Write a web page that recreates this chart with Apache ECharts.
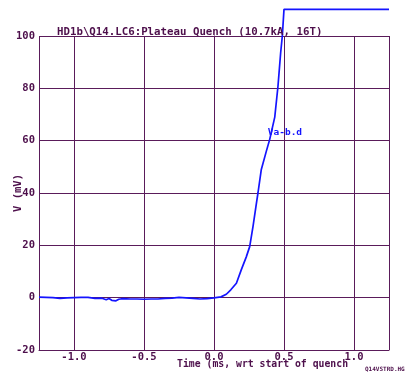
<!DOCTYPE html>
<html><head><meta charset="utf-8">
<script src="https://cdn.jsdelivr.net/npm/echarts@6/dist/echarts.min.js"></script>
<style>html,body{margin:0;padding:0;background:#fff}#c{width:409px;height:374px}</style>
</head><body><div id="c"></div>
<script>
const chartTitle = 'HD1b\\Q14.LC6:Plateau Quench (10.7kA, 16T)';
const xTitle = 'Time (ms, wrt start of quench';
const yTitle = 'V (mV)';
const fileTag = 'Q14VSTRD.HG';
const seriesName = 'Va-b.d';
const timeMs = [-1.25,-1.2,-1.15,-1.1,-1.05,-1.0,-0.95,-0.9,-0.85,-0.8,-0.77,-0.75,-0.73,-0.72,-0.70,-0.68,-0.65,-0.6,-0.55,-0.5,-0.45,-0.4,-0.35,-0.3,-0.25,-0.2,-0.15,-0.1,-0.05,0.0,0.05,0.088,0.12,0.16,0.196,0.23,0.255,0.279,0.30,0.314,0.338,0.374,0.398,0.434,0.457,0.476,0.488,0.5,1.25];
const voltMv = [0.2,0.1,0,-0.3,-0.1,0,0.1,0.1,-0.3,-0.2,-0.8,-0.3,-1.0,-0.5,-1.2,-0.6,-0.4,-0.5,-0.5,-0.6,-0.5,-0.5,-0.3,-0.2,0.1,-0.1,-0.3,-0.5,-0.4,-0.1,0.3,1.3,3.0,5.5,10.8,15.5,19.5,27.3,35,40,49,56,60.5,69,80.8,93.5,100,110.2,110.2];
const labelAt = [0.384, 63];
const yMin = -20, yMax = 100, yStep = 20;
const xMin = -1.25, xMax = 1.25;

const ink = '#4d0f4b';
const grid = '#5a1b5a';
const font = 'DejaVu Sans Mono';
const chart = echarts.init(document.getElementById('c'));
chart.setOption({
  animation: false,
  title: [
    {text: chartTitle, left: 57, top: 27, padding: 0, textStyle: {fontFamily: font, fontWeight: 'bold', fontSize: 10.75, color: ink}},
    {text: xTitle, left: 177, top: 359, padding: 0, textStyle: {fontFamily: font, fontWeight: 'bold', fontSize: 9.8, color: ink}},
    {text: fileTag, left: 365, top: 366, padding: 0, textStyle: {fontFamily: font, fontWeight: 'bold', fontSize: 6, color: ink}}
  ],
  grid: {left: 39, top: 36, width: 350, height: 314, containLabel: false, outerBoundsMode: 'none'},
  xAxis: {
    type: 'value', min: xMin, max: xMax, splitNumber: 5,
    axisLine: {onZero: false, lineStyle: {color: grid, width: 1}},
    axisTick: {show: false},
    splitLine: {lineStyle: {color: grid, width: 1}},
    axisLabel: {
      showMinLabel: false, showMaxLabel: false, margin: 2,
      fontFamily: font, fontWeight: 'bold', fontSize: 10.5, color: ink,
      formatter: v => Math.abs(v * 2 - Math.round(v * 2)) > 1e-6 ? '' : v.toFixed(1)
    }
  },
  yAxis: {
    type: 'value', min: yMin, max: yMax, interval: yStep,
    name: yTitle, nameLocation: 'middle', nameGap: 15, nameMoveOverlap: false,
    nameTextStyle: {fontFamily: font, fontWeight: 'bold', fontSize: 10.5, color: ink},
    axisLine: {lineStyle: {color: grid, width: 1}},
    axisTick: {show: false},
    splitLine: {lineStyle: {color: grid, width: 1}},
    axisLabel: {margin: 4, fontFamily: font, fontWeight: 'bold', fontSize: 10.5, color: ink}
  },
  series: [{
    name: seriesName, type: 'line', clip: false, showSymbol: false, symbol: 'none',
    data: timeMs.map((t, i) => [t, voltMv[i]]),
    lineStyle: {color: '#1414ff', width: 1.7},
    markPoint: {
      symbol: 'circle', symbolSize: 0,
      data: [{coord: labelAt}],
      label: {show: true, position: 'right', distance: 0, formatter: seriesName,
        fontFamily: font, fontWeight: 'bold', fontSize: 9.5, color: '#1414ff'}
    }
  }]
});
</script></body></html>
